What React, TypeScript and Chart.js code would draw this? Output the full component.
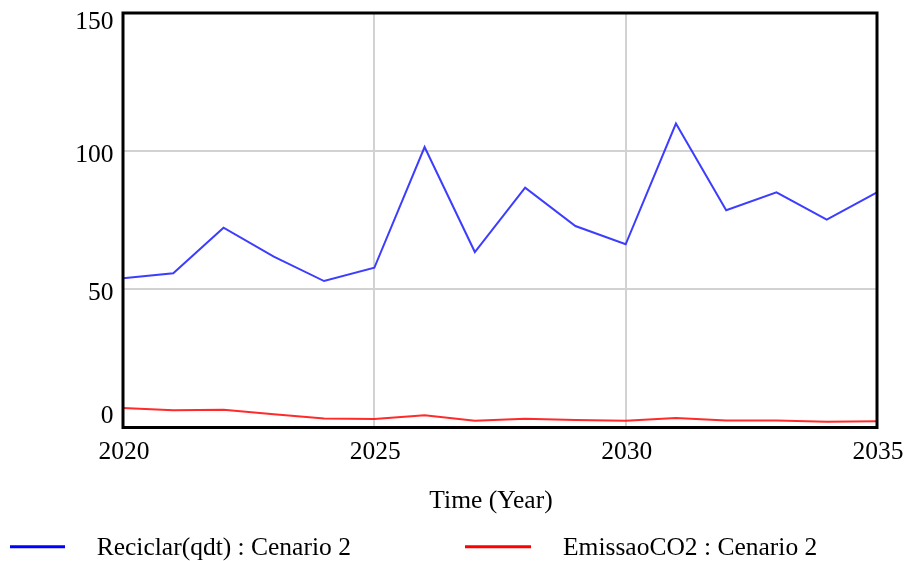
import React, { useEffect, useRef } from "react";
import { Chart, registerables } from "chart.js";

Chart.register(...registerables);

const years = [2020, 2021, 2022, 2023, 2024, 2025, 2026, 2027, 2028, 2029, 2030, 2031, 2032, 2033, 2034, 2035];
const reciclar = [54.0, 55.8, 72.3, 61.8, 53.0, 57.8, 101.5, 63.5, 86.8, 72.9, 66.3, 110.0, 78.6, 85.1, 75.2, 85.1];
const emissao = [7.1, 6.2, 6.4, 4.8, 3.3, 3.1, 4.4, 2.4, 3.2, 2.7, 2.4, 3.4, 2.5, 2.5, 2.1, 2.3];
const xTicks = [2020, 2025, 2030, 2035];
const yTicks = [0, 50, 100, 150];
const seriesLabels = ["Reciclar(qdt) : Cenario 2", "EmissaoCO2 : Cenario 2"];
const xTitle = "Time (Year)";

const FONT = "25.5px 'Liberation Serif', 'Times New Roman', serif";

const overlay = {
  id: "overlay",
  afterDraw(chart: any) {
    const ctx = chart.ctx;
    const area = chart.chartArea;
    const xs = chart.scales.x;
    const ys = chart.scales.y;
    ctx.save();
    // frame
    ctx.strokeStyle = "#000";
    ctx.lineWidth = 3;
    ctx.strokeRect(area.left, area.top, area.right - area.left, area.bottom - area.top);
    // y labels
    ctx.font = FONT;
    ctx.fillStyle = "#000";
    ctx.textBaseline = "alphabetic";
    ctx.textAlign = "right";
    yTicks.forEach((v, i) => {
      const p = ys.getPixelForValue(v);
      let off = 10.5;
      if (i === yTicks.length - 1) off = 16.3;
      else if (i === 0) off = -4.2;
      ctx.fillText(String(v), area.left - 9.5, p + off);
    });
    // x labels
    ctx.textAlign = "center";
    xTicks.forEach((v) => {
      const p = xs.getPixelForValue(v);
      ctx.fillText(String(v), p + 1, area.bottom + 31.8);
    });
    // axis title
    ctx.fillText(xTitle, (area.left + area.right) / 2 - 9, area.bottom + 80.5);
    // legend
    const items = [
      { lx0: 10, lx1: 65, tx: 96.7 },
      { lx0: 465, lx1: 531, tx: 563 },
    ];
    chart.data.datasets.forEach((ds: any, i: number) => {
      const it = items[i];
      ctx.strokeStyle = ds.legendColor;
      ctx.lineWidth = 3;
      ctx.beginPath();
      ctx.moveTo(it.lx0, 546.7);
      ctx.lineTo(it.lx1, 546.7);
      ctx.stroke();
      ctx.textAlign = "left";
      ctx.fillStyle = "#000";
      ctx.fillText(ds.label, it.tx, 555);
    });
    ctx.restore();
  },
};

export default function App() {
  const ref = useRef<HTMLCanvasElement | null>(null);
  useEffect(() => {
    if (!ref.current) return;
    const chart = new Chart(ref.current, {
      type: "line",
      data: {
        datasets: [
          {
            label: seriesLabels[0],
            data: years.map((y, i) => ({ x: y, y: reciclar[i] })),
            borderColor: "rgba(40,40,255,0.9)",
            legendColor: "#0000ff",
            borderWidth: 2,
            pointRadius: 0,
            tension: 0,
          } as any,
          {
            label: seriesLabels[1],
            data: years.map((y, i) => ({ x: y, y: emissao[i] })),
            borderColor: "rgba(255,20,20,0.9)",
            legendColor: "#ff0000",
            borderWidth: 2,
            pointRadius: 0,
            tension: 0,
          } as any,
        ],
      },
      options: {
        animation: false,
        responsive: false,
        devicePixelRatio: 1,
        layout: { padding: { left: 0, right: 28, top: 13, bottom: 0 } },
        plugins: { legend: { display: false }, tooltip: { enabled: false } },
        scales: {
          x: {
            type: "linear",
            min: 2020,
            max: 2035,
            afterBuildTicks: (s: any) => {
              s.ticks = xTicks.map((v) => ({ value: v }));
            },
            afterFit: (s: any) => {
              s.height = 133.5;
            },
            ticks: { display: false },
            grid: { color: "#d2d2d2", lineWidth: 2, drawTicks: false },
            border: { display: false },
          },
          y: {
            min: 0,
            max: 150,
            afterBuildTicks: (s: any) => {
              s.ticks = yTicks.map((v) => ({ value: v }));
            },
            afterFit: (s: any) => {
              s.width = 123;
            },
            ticks: { display: false },
            grid: { color: "#d2d2d2", lineWidth: 2, drawTicks: false },
            border: { display: false },
          },
        },
      },
      plugins: [overlay],
    });
    return () => chart.destroy();
  }, []);
  return (
    <div style={{ position: "fixed", left: 0, top: 0, width: 905, height: 561, background: "#fff" }}>
      <canvas ref={ref} width={905} height={561} style={{ display: "block" }} />
    </div>
  );
}
